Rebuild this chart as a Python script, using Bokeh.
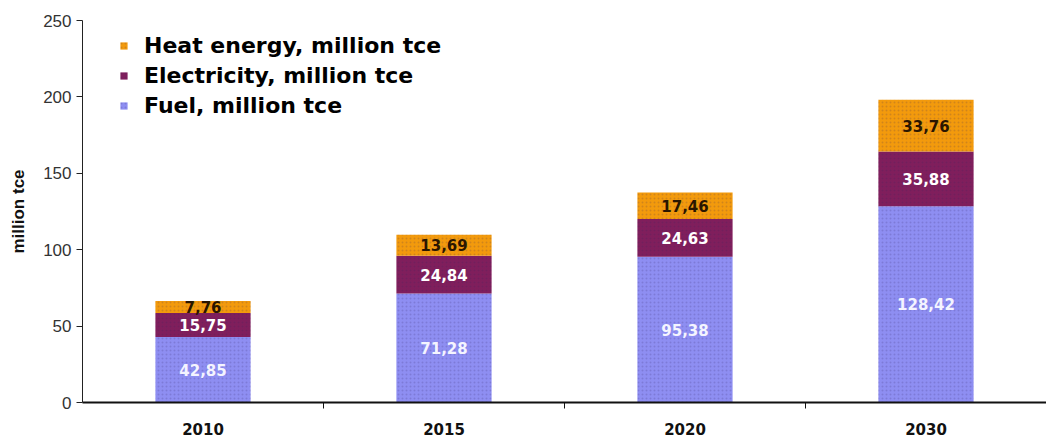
import numpy as np
from bokeh.plotting import figure
from bokeh.models import Range1d, FixedTicker, Legend, LegendItem, ColumnDataSource
from bokeh.core.properties import value
from bokeh.embed import file_html
from bokeh.resources import INLINE

years = ["2010", "2015", "2020", "2030"]
fuel = [42.85, 71.28, 95.38, 128.42]
electricity = [15.75, 24.84, 24.63, 35.88]
heat = [7.76, 13.69, 17.46, 33.76]
series_names = ["Fuel, million tce", "Electricity, million tce", "Heat energy, million tce"]
colors = ["#8e8ef2", "#801e5c", "#f39a0c"]
label_colors = ["#f4f4ff", "#ffffff", "#2a1600"]
y_ticks = [0, 50, 100, 150, 200, 250]

xs = list(range(len(years)))
data = {"x": xs, "fuel": fuel, "electricity": electricity, "heat": heat}
src = ColumnDataSource(data)

p = figure(width=1046, height=439, output_backend="svg", toolbar_location=None,
           x_range=Range1d(-0.5, len(years) - 0.5), y_range=Range1d(0, 250),
           min_border_left=82, min_border_right=0, min_border_top=20, min_border_bottom=37)
p.outline_line_color = None
p.xgrid.visible = False
p.ygrid.visible = False

renderers = p.vbar_stack(["fuel", "electricity", "heat"], x="x", width=0.395, source=src,
                         color=colors, line_color=None,
                         hatch_pattern=".", hatch_scale=4, hatch_alpha=0.18, hatch_color="#302060")

# segment labels
stack = np.array([fuel, electricity, heat])
bottoms = np.vstack([np.zeros(len(years)), np.cumsum(stack, axis=0)[:-1]])
mids = bottoms + stack / 2
for i in range(3):
    labels = [f"{v:.2f}".replace(".", ",") for v in stack[i]]
    p.text(x=xs, y=list(mids[i]), text=labels, text_align="center", text_baseline="middle",
           text_color=label_colors[i], text_font_size="15px", text_font_style="bold",
           text_font=value("DejaVu Sans"))

# axes
p.yaxis.ticker = FixedTicker(ticks=y_ticks)
p.yaxis.minor_tick_line_color = None
p.yaxis.major_tick_in = 0
p.yaxis.major_tick_out = 6
p.yaxis.axis_line_color = "#222222"
p.yaxis.major_tick_line_color = "#222222"
p.yaxis.major_label_text_font = "Liberation Sans"
p.yaxis.major_label_text_font_size = "17px"
p.yaxis.major_label_text_color = "#333333"
p.yaxis.axis_label = "million tce"
p.yaxis.axis_label_text_font = "Liberation Sans"
p.yaxis.axis_label_text_font_style = "bold"
p.yaxis.axis_label_text_font_size = "17px"
p.yaxis.axis_label_text_color = "#111111"
p.yaxis.axis_label_standoff = 12

p.xaxis.ticker = FixedTicker(ticks=xs, minor_ticks=[i + 0.5 for i in xs[:-1]])
p.xaxis.major_label_overrides = {i: y for i, y in zip(xs, years)}
p.xaxis.major_tick_line_color = None
p.xaxis.major_tick_in = 0
p.xaxis.major_tick_out = 0
p.xaxis.minor_tick_in = 0
p.xaxis.minor_tick_out = 6
p.xaxis.minor_tick_line_color = "#111111"
p.xaxis.axis_line_color = "#111111"
p.xaxis.axis_line_width = 2
p.xaxis.major_label_standoff = 14
p.xaxis.major_label_text_font = "DejaVu Sans"
p.xaxis.major_label_text_font_style = "bold"
p.xaxis.major_label_text_font_size = "15px"
p.xaxis.major_label_text_color = "#111111"

items = [LegendItem(label=series_names[i], renderers=[renderers[i]]) for i in [2, 1, 0]]
legend = Legend(items=items, location=(37, 284), orientation="vertical",
                border_line_color=None, background_fill_alpha=0,
                glyph_width=9, glyph_height=9, label_standoff=16, spacing=5,
                padding=0, margin=0,
                label_text_font="DejaVu Sans", label_text_font_style="bold",
                label_text_font_size="22px", label_text_color="#000000")
p.add_layout(legend)

open("out.html", "w").write(file_html(p, INLINE))
